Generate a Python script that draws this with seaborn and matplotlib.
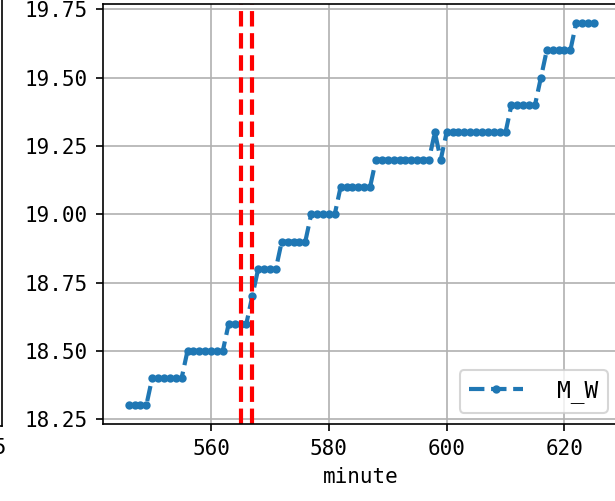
import pandas as pd
import seaborn as sns
import matplotlib.pyplot as plt

# data
minute = list(range(546, 626))
m_w = [18.3, 18.3, 18.3, 18.3,
       18.4, 18.4, 18.4, 18.4, 18.4, 18.4,
       18.5, 18.5, 18.5, 18.5, 18.5, 18.5, 18.5,
       18.6, 18.6, 18.6, 18.6,
       18.7,
       18.8, 18.8, 18.8, 18.8,
       18.9, 18.9, 18.9, 18.9, 18.9,
       19.0, 19.0, 19.0, 19.0, 19.0,
       19.1, 19.1, 19.1, 19.1, 19.1, 19.1,
       19.2, 19.2, 19.2, 19.2, 19.2, 19.2, 19.2, 19.2, 19.2, 19.2,
       19.3, 19.2,
       19.3, 19.3, 19.3, 19.3, 19.3, 19.3, 19.3, 19.3, 19.3, 19.3, 19.3,
       19.4, 19.4, 19.4, 19.4, 19.4,
       19.5,
       19.6, 19.6, 19.6, 19.6, 19.6,
       19.7, 19.7, 19.7, 19.7]
event_minutes = [565, 567]
y_ticks = [18.25, 18.50, 18.75, 19.00, 19.25, 19.50, 19.75]
x_ticks = [560, 580, 600, 620]
# neighbouring panel (cropped away, only its edge shows)
left_ticks = [75]

df = pd.DataFrame({"minute": minute, "M_W": m_w})

plt.rcParams["font.family"] = ["DejaVu Sans Mono"]
plt.rcParams["font.size"] = 10

fig = plt.figure(figsize=(4.1, 3.34), dpi=150)

# neighbour panel, cut off at the left edge
ax0 = fig.add_axes([(1.5 - 500) / 615, (501 - 426) / 501, 500 / 615, 1.2])
ax0.set_xlim(0, 76.05)
ax0.set_xticks(left_ticks)
ax0.set_yticks([])
ax0.tick_params(axis="x", length=0, pad=6)

# main panel (right part is cropped)
ax = fig.add_axes([102.7 / 615, (501 - 424) / 501, (619.2 - 102.7) / 615, 420 / 501])
sns.lineplot(data=df, x="minute", y="M_W", ax=ax, marker=".", linestyle="--",
             linewidth=2, markersize=6, color="#1f77b4",
             markeredgecolor="#1f77b4", markeredgewidth=1, label="M_W")

for m in event_minutes:
    ax.axvline(m, color="red", linestyle="--", linewidth=2)

ax.set_xlim(541.6, 629.3)
ax.set_ylim(18.232, 19.770)
ax.set_xticks(x_ticks)
ax.set_yticks(y_ticks)
ax.set_yticklabels([f"{v:.2f}" for v in y_ticks])
ax.grid(True)
ax.set_xlabel("minute")
ax.set_ylabel("")
ax.legend(loc="lower right", fontsize=11, handlelength=2.36, handletextpad=1.5)

plt.savefig("out.png", dpi=150)
